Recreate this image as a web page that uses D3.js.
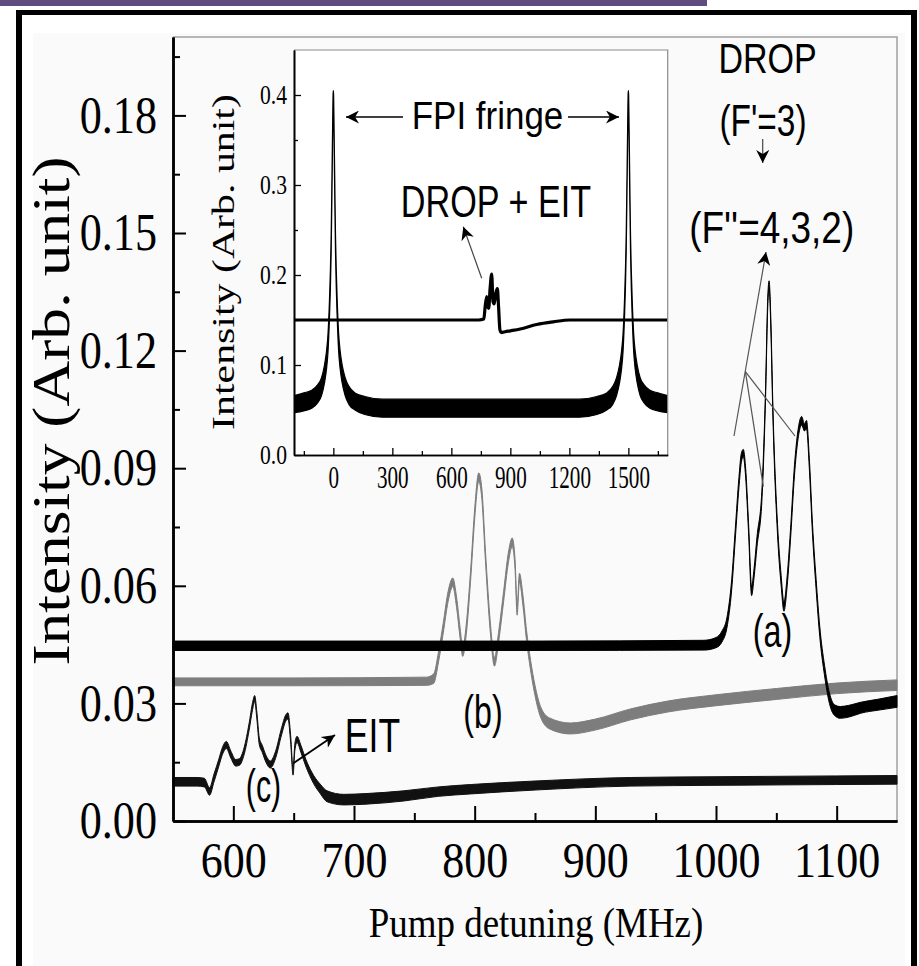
<!DOCTYPE html>
<html>
<head>
<meta charset="utf-8">
<script src="https://cdn.jsdelivr.net/npm/d3@7"></script>
<style>
body{margin:0;background:#fff;}
svg{display:block;}
</style>
</head>
<body>
<div id="chart"></div>
<script>
// main panel ticks
var mainXTicks=[600,700,800,900,1000,1100];
var mainXMinor=[650,750,850,950,1050];
var mainYTicks=[0,0.03,0.06,0.09,0.12,0.15,0.18];
var mainYMinor=[0.015,0.045,0.075,0.105,0.135,0.165,0.195];

// traces: [MHz, lower edge, upper edge] of the noisy band
var traceA=[[550,.0435,.0459],[700,.0435,.0459],[850,.0435,.0459],[990,.0436,.0461],[1000,.0442,.0468],
	[1005,.0457,.0485],[1009,.0492,.0518],[1013,.0590,.0616],[1016,.0720,.0746],[1019,.0850,.0876],
	[1021,.0915,.0938],[1022.6,.0930,.0948],[1024.5,.0880,.0903],[1027,.0735,.0758],[1029.5,.0575,.0598],
	[1031.5,.0620,.0643],[1034,.0700,.0726],[1038,.0815,.0841],[1041,.1070,.1096],[1043,.1320,.1345],
	[1044,.1360,.1378],[1045.5,.1250,.1275],[1047,.1050,.1076],[1051,.0730,.0756],[1054,.0600,.0626],
	[1056.3,.0535,.0558],[1059,.0600,.0626],[1062,.0730,.0756],[1065,.0880,.0906],[1068,.0975,.0998],
	[1071,.1010,.1032],[1073.3,.0995,.1013],[1075,.1000,.1022],[1077.5,.0890,.0916],[1080,.0730,.0756],
	[1083,.0590,.0616],[1086,.0470,.0496],[1090,.0370,.0396],[1094,.0300,.0327],[1098,.0270,.0297],
	[1103,.0262,.0292],[1110,.0265,.0295],[1120,.0275,.0303],[1135,.0283,.0311],[1150,.0290,.0320]];
var traceB=[[550,.0345,.0365],[650,.0345,.0365],[760,.0346,.0367],[766,.0351,.0375],[770,.0405,.0431],
	[774,.0480,.0506],[778,.0560,.0586],[781.9,.0598,.0620],[785,.0545,.0571],[788,.0465,.0491],
	[790.1,.0420,.0442],[793,.0475,.0501],[797,.0630,.0656],[800,.0770,.0796],[803.4,.0866,.0888],
	[806,.0820,.0846],[809,.0660,.0686],[813,.0480,.0506],[816.4,.0395,.0417],[820,.0460,.0486],
	[824,.0560,.0586],[828,.0660,.0686],[831.1,.0700,.0722],[833.5,.0640,.0666],[835.2,.0525,.0547],
	[837.1,.0610,.0632],[840,.0550,.0576],[843,.0460,.0486],[846.3,.0385,.0411],[850,.0320,.0346],
	[854.6,.0265,.0292],[862,.0235,.0263],[879.4,.0222,.0250],[900,.0232,.0260],[929.2,.0258,.0286],
	[960,.0278,.0306],[1000,.0294,.0322],[1050,.0310,.0338],[1100,.0325,.0352],[1150,.0333,.0360]];
var traceC=[[550,.0089,.0111],[570,.0089,.0111],[576,.0087,.0109],[580.3,.0066,.0085],[584,.0100,.0120],
	[588,.0140,.0158],[591,.0170,.0188],[594.2,.0185,.0203],[598,.0160,.0178],[602,.0140,.0157],
	[605,.0142,.0159],[609,.0170,.0188],[613,.0230,.0248],[616,.0285,.0303],[617.7,.0305,.0320],
	[619.5,.0260,.0278],[621.5,.0195,.0213],[624,.0175,.0193],[627,.0150,.0168],[630.7,.0135,.0153],
	[635,.0160,.0178],[640,.0220,.0238],[643.5,.0255,.0271],[645.3,.0260,.0276],[647.5,.0200,.0218],
	[649.5,.0117,.0134],[651,.0180,.0198],[652.8,.0200,.0216],[656,.0175,.0193],[660,.0140,.0158],
	[666.6,.0095,.0116],[672,.0070,.0094],[677.7,.0049,.0077],[691.5,.0041,.0068],[710,.0043,.0070],
	[741.2,.0051,.0077],[770,.0063,.0087],[796.5,.0069,.0093],[850,.0079,.0102],[929.2,.0089,.0111],
	[1000,.0091,.0113],[1100,.0093,.0115],[1150,.0094,.0116]];

// inset panel
var insetXTicks=[0,300,600,900,1200,1500];
var insetXMinor=[-150,150,450,750,1050,1350,1650];
var insetYTicks=[0,0.1,0.2,0.3,0.4];
var insetYMinor=[0.05,0.15,0.25,0.35];
var fringe=[[-200,.047,.066],[-150,.049,.069],[-110,.052,.072],[-80,.058,.078],[-60,.066,.086],
	[-45,.080,.100],[-35,.095,.115],[-27,.115,.135],[-20,.150,.170],[-15,.185,.205],[-11,.225,.245],
	[-7,.290,.310],[-4,.345,.360],[-1.5,.385,.400],[0,.395,.405],[1.5,.385,.400],[4,.345,.360],
	[7,.290,.310],[11,.225,.245],[15,.185,.205],[20,.150,.170],[27,.115,.135],[35,.095,.115],
	[45,.080,.100],[60,.066,.086],[80,.056,.076],[110,.050,.069],[160,.045,.065],[250,.042,.062],
	[600,.042,.062],[1000,.042,.062],[1250,.042,.062],[1340,.045,.065],[1390,.050,.069],[1420,.056,.076],
	[1440,.066,.086],[1455,.080,.100],[1465,.095,.115],[1473,.115,.135],[1480,.150,.170],[1485,.185,.205],
	[1489,.225,.245],[1493,.290,.310],[1496,.345,.360],[1498.5,.385,.400],[1500,.395,.405],[1501.5,.385,.400],
	[1504,.345,.360],[1507,.290,.310],[1511,.225,.245],[1515,.185,.205],[1520,.150,.170],[1527,.115,.135],
	[1535,.095,.115],[1545,.080,.100],[1560,.066,.086],[1580,.058,.078],[1610,.052,.072],[1650,.049,.069],
	[1700,.047,.066]];
var dropEit=[[-200,.150],[740,.150],[765,.151],[772,.165],[780,.176],[785,.165],[790,.163],[797,.185],
	[805,.201],[812,.170],[818,.168],[826,.180],[834,.185],[840,.165],[847,.139],[855,.136],[873,.137],
	[900,.138],[950,.140],[1034,.145],[1119,.148],[1203,.150],[1700,.150]];

var W=919, H=966;
var serif="'Liberation Serif','Times New Roman',serif";
var sans="'Liberation Sans',Arial,sans-serif";

var svg=d3.select("#chart").append("svg").attr("width",W).attr("height",H);

// background, purple strip and black frame
svg.append("rect").attr("width",W).attr("height",H).attr("fill","#fff");
svg.append("rect").attr("x",33).attr("y",33).attr("width",872).attr("height",933).attr("fill","#fafafa");
svg.append("rect").attr("x",0).attr("y",0).attr("width",707).attr("height",6).attr("fill","#604c7e");
svg.append("rect").attr("x",16).attr("y",10).attr("width",901).attr("height",5).attr("fill","#000");
svg.append("rect").attr("x",16).attr("y",10).attr("width",6).attr("height",H-10).attr("fill","#000");
svg.append("rect").attr("x",911).attr("y",10).attr("width",6).attr("height",H-10).attr("fill","#000");

var defs=svg.append("defs");
defs.append("marker").attr("id","arr").attr("viewBox","0 0 10 10")
	.attr("refX",10).attr("refY",5).attr("markerUnits","userSpaceOnUse")
	.attr("markerWidth",16).attr("markerHeight",13).attr("orient","auto")
	.append("path").attr("d","M0,0L10,5L0,10L3,5Z").attr("fill","#000");

// ---------- main panel ----------
var x=d3.scaleLinear().domain([550,1150]).range([173,897]);
var y=d3.scaleLinear().domain([0,0.2]).range([821,37]);

// light top / right border
svg.append("path").attr("d","M"+x(550)+","+y(0.2)+"H"+x(1150)+"V"+y(0))
	.attr("fill","none").attr("stroke","#a0a0a0").attr("stroke-width",1.5);

var band=d3.area().curve(d3.curveMonotoneX)
	.x(function(d){return x(d[0]);})
	.y0(function(d){return y(d[1]);})
	.y1(function(d){return y(d[2]);});

var traces=[{data:traceB,color:"#7d7d7d"},{data:traceA,color:"#000"},{data:traceC,color:"#111"}];
svg.append("g").selectAll("path").data(traces).enter().append("path")
	.attr("d",function(d){return band(d.data);})
	.attr("fill",function(d){return d.color;})
	.attr("stroke",function(d){return d.color;})
	.attr("stroke-width",1)
	.attr("stroke-linejoin","round");

function styleAxis(g,font,size,sx,pad,left){
	g.select(".domain").attr("stroke","#000").attr("stroke-width",2.5);
	g.selectAll(".tick line").attr("stroke","#000").attr("stroke-width",2);
	g.selectAll("text").attr("font-family",font).attr("font-size",size).attr("fill","#000")
		.attr("transform","scale("+sx+",1)");
	if(left){ g.selectAll("text").attr("x",-pad/sx); }
}

var gxMinor=svg.append("g").attr("transform","translate(0,"+y(0)+")")
	.call(d3.axisBottom(x).tickValues(mainXMinor).tickSizeInner(-8).tickSizeOuter(0).tickFormat(""));
var gx=svg.append("g").attr("transform","translate(0,"+y(0)+")")
	.call(d3.axisBottom(x).tickValues(mainXTicks).tickSizeInner(-15).tickSizeOuter(0).tickPadding(21).tickFormat(d3.format("d")));
styleAxis(gxMinor,serif,50,0.88,0,false);
styleAxis(gx,serif,50,0.88,0,false);

var gyMinor=svg.append("g").attr("transform","translate("+x(550)+",0)")
	.call(d3.axisLeft(y).tickValues(mainYMinor).tickSizeInner(-7).tickSizeOuter(0).tickFormat(""));
var gy=svg.append("g").attr("transform","translate("+x(550)+",0)")
	.call(d3.axisLeft(y).tickValues(mainYTicks).tickSizeInner(-13).tickSizeOuter(0).tickPadding(16).tickFormat(d3.format(".2f")));
styleAxis(gyMinor,serif,52,0.85,16,true);
styleAxis(gy,serif,52,0.85,16,true);

// axis titles
svg.append("text").attr("transform","translate(536,937) scale(0.88,1)")
	.attr("text-anchor","middle").attr("font-family",serif).attr("font-size",42)
	.text("Pump detuning (MHz)");
svg.append("text").attr("transform","translate(69,411) rotate(-90) scale(1.22,1)")
	.attr("text-anchor","middle").attr("font-family",serif).attr("font-size",52)
	.text("Intensity (Arb. unit)");

// ---------- inset ----------
var ix=d3.scaleLinear().domain([-200,1700]).range([294,667.7]);
var iy=d3.scaleLinear().domain([0,0.45]).range([455,50]);

svg.append("rect").attr("x",ix(-200)).attr("y",iy(0.45))
	.attr("width",ix(1700)-ix(-200)).attr("height",iy(0)-iy(0.45))
	.attr("fill","#fff").attr("stroke","none");
defs.append("clipPath").attr("id","insetClip").append("rect")
	.attr("x",ix(-200)).attr("y",iy(0.45)).attr("width",ix(1700)-ix(-200)).attr("height",iy(0)-iy(0.45));

var ig=svg.append("g").attr("clip-path","url(#insetClip)");
ig.append("path").datum(fringe)
	.attr("d",d3.area().curve(d3.curveMonotoneX).x(function(d){return ix(d[0]);}).y0(function(d){return iy(d[1]);}).y1(function(d){return iy(d[2]);}))
	.attr("fill","#000").attr("stroke","#000").attr("stroke-width",1.2).attr("stroke-linejoin","round");
ig.append("path").datum(dropEit)
	.attr("d",d3.line().curve(d3.curveMonotoneX).x(function(d){return ix(d[0]);}).y(function(d){return iy(d[1]);}))
	.attr("fill","none").attr("stroke","#000").attr("stroke-width",3.2).attr("stroke-linejoin","round");

svg.append("path").attr("d","M"+ix(-200)+","+iy(0.45)+"H"+ix(1700)+"V"+iy(0))
	.attr("fill","none").attr("stroke","#8a8a8a").attr("stroke-width",1.2);

function styleInset(g,sx,pad,left){
	g.select(".domain").attr("stroke","#000").attr("stroke-width",1.6);
	g.selectAll(".tick line").attr("stroke","#000").attr("stroke-width",1.3);
	g.selectAll("text").attr("font-family",serif).attr("font-size",left?27:32).attr("fill","#000")
		.attr("transform","scale("+sx+",1)");
	if(left){ g.selectAll("text").attr("x",-pad/sx); }
}
var igxMinor=svg.append("g").attr("transform","translate(0,"+iy(0)+")")
	.call(d3.axisBottom(ix).tickValues(insetXMinor).tickSizeInner(-4).tickSizeOuter(0).tickFormat(""));
var igx=svg.append("g").attr("transform","translate(0,"+iy(0)+")")
	.call(d3.axisBottom(ix).tickValues(insetXTicks).tickSizeInner(-7).tickSizeOuter(0).tickPadding(10).tickFormat(d3.format("d")));
styleInset(igxMinor,0.66,0,false);
styleInset(igx,0.66,0,false);
var igyMinor=svg.append("g").attr("transform","translate("+ix(-200)+",0)")
	.call(d3.axisLeft(iy).tickValues(insetYMinor).tickSizeInner(-4).tickSizeOuter(0).tickFormat(""));
var igy=svg.append("g").attr("transform","translate("+ix(-200)+",0)")
	.call(d3.axisLeft(iy).tickValues(insetYTicks).tickSizeInner(-7).tickSizeOuter(0).tickPadding(7).tickFormat(d3.format(".1f")));
styleInset(igyMinor,0.8,7,true);
styleInset(igy,0.8,7,true);

svg.append("text").attr("transform","translate(234,262) rotate(-90) scale(1.35,1)")
	.attr("text-anchor","middle").attr("font-family",serif).attr("font-size",31)
	.text("Intensity (Arb. unit)");

// ---------- annotations ----------
var labels=[
	{t:"FPI fringe",x:487.5,y:129,size:38,sx:0.92},
	{t:"DROP + EIT",x:496,y:217,size:45,sx:0.76},
	{t:"DROP",x:767.5,y:73,size:42,sx:0.81},
	{t:"(F'=3)",x:763,y:136,size:44,sx:0.76},
	{t:"(F''=4,3,2)",x:771.7,y:243,size:44,sx:0.84},
	{t:"(a)",x:772.5,y:647,size:46,sx:0.7},
	{t:"(b)",x:483,y:728,size:46,sx:0.7},
	{t:"(c)",x:263.5,y:802,size:46,sx:0.66},
	{t:"EIT",x:372.5,y:752,size:48,sx:0.74}
];
svg.append("g").selectAll("text").data(labels).enter().append("text")
	.attr("transform",function(d){return "translate("+d.x+","+d.y+") scale("+d.sx+",1)";})
	.attr("text-anchor","middle").attr("font-family",sans)
	.attr("font-size",function(d){return d.size;}).attr("fill","#000")
	.text(function(d){return d.t;});

var arrows=[
	{p:[[403,117],[346,117]],w:1.6,c:"#000",head:true},
	{p:[[568,117],[619,117]],w:1.6,c:"#000",head:true},
	{p:[[481.7,278.3],[463.3,226.7]],w:1.2,c:"#444",head:true},
	{p:[[762.7,139],[762.7,163]],w:1.2,c:"#444",head:true},
	{p:[[734,436],[766,252]],w:1.2,c:"#555",head:true},
	{p:[[745.4,371.7],[763.3,486.7]],w:1.2,c:"#555",head:false},
	{p:[[745.4,371.7],[795,436]],w:1.2,c:"#555",head:false},
	{p:[[293.3,763.3],[335,735]],w:1.8,c:"#000",head:true}
];
svg.append("g").selectAll("line").data(arrows).enter().append("line")
	.attr("x1",function(d){return d.p[0][0];}).attr("y1",function(d){return d.p[0][1];})
	.attr("x2",function(d){return d.p[1][0];}).attr("y2",function(d){return d.p[1][1];})
	.attr("stroke",function(d){return d.c;}).attr("stroke-width",function(d){return d.w;})
	.attr("marker-end",function(d){return d.head?"url(#arr)":null;});
</script>
</body>
</html>
